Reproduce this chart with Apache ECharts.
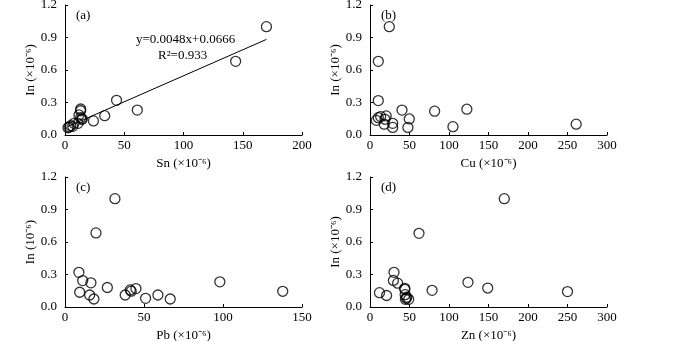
<!DOCTYPE html>
<html>
<head>
<meta charset="utf-8">
<script src="https://cdn.jsdelivr.net/npm/echarts@6/dist/echarts.min.js"></script>
<style>
  html, body { margin: 0; padding: 0; background: #fff; }
  #main { width: 700px; height: 341px; }
</style>
</head>
<body>
<div id="main"></div>
<script>
// In vs Sn
var snIn = [
  [170, 1.0], [144, 0.68], [61, 0.23], [43.5, 0.32], [33.5, 0.178], [24, 0.13],
  [13.2, 0.24], [13.2, 0.224], [11.8, 0.185], [13.2, 0.16], [14.6, 0.148], [14, 0.145],
  [11, 0.108], [7.6, 0.108], [6.5, 0.08], [4.8, 0.086], [2.5, 0.067], [3.5, 0.074]
];
// In vs Cu
var cuIn = [
  [24.4, 1.0], [10.5, 0.68], [10.5, 0.318], [8, 0.135], [10.5, 0.16], [13.5, 0.17],
  [20.5, 0.176], [19, 0.145], [18, 0.10], [28.7, 0.108], [28.7, 0.07], [40.5, 0.23],
  [49.7, 0.148], [48, 0.07], [81.8, 0.22], [105, 0.077], [122.6, 0.238], [261, 0.10]
];
// In vs Pb
var pbIn = [
  [31.6, 1.0], [19.6, 0.684], [8.8, 0.32], [11.2, 0.244], [9.3, 0.136], [16.4, 0.223],
  [15.6, 0.111], [18.3, 0.074], [26.8, 0.18], [38.1, 0.111], [41.3, 0.158], [41.9, 0.146],
  [44.9, 0.17], [51, 0.08], [58.8, 0.111], [66.6, 0.074], [98, 0.232], [137.8, 0.145]
];
// In vs Zn
var znIn = [
  [170, 1.0], [62, 0.68], [30.4, 0.32], [29.6, 0.245], [35, 0.22], [12, 0.132],
  [21, 0.106], [44, 0.172], [44, 0.163], [44.5, 0.114], [46.5, 0.09], [44.8, 0.071],
  [49, 0.071], [78.6, 0.154], [124, 0.228], [149, 0.175], [250, 0.142], [46, 0.08]
];

var xNames = ['Sn (×10⁻⁶)', 'Cu (×10⁻⁶)', 'Pb (×10⁻⁶)', 'Zn (×10⁻⁶)'];
var yNames = ['In (×10⁻⁶)', 'In (×10⁻⁶)', 'In (10⁻⁶)', 'In (×10⁻⁶)'];
var xMax = [200, 300, 150, 300];
var panelTags = ['(a)', '(b)', '(c)', '(d)'];
var fitCoef = [0.0048, 0.0666];   // slope, intercept
var fitR2 = 0.933;

var font = 'Liberation Serif, Times New Roman, serif';
var panels = [snIn, cuIn, pbIn, znIn];
var rects = [
  {left: 65, top: 5},
  {left: 370, top: 5},
  {left: 65, top: 177},
  {left: 370, top: 177}
];

var xs = snIn.map(function (d) { return d[0]; });
var fitLine = [Math.min.apply(null, xs), Math.max.apply(null, xs)].map(function (x) {
  return [x, fitCoef[0] * x + fitCoef[1]];
});

var mychart = echarts.init(document.getElementById('main'));

var grids = [], xAxes = [], yAxes = [], series = [], graphics = [];
panels.forEach(function (data, i) {
  grids.push({
    left: rects[i].left, top: rects[i].top, width: 237, height: 130,
    containLabel: false, outerBoundsMode: 'none'
  });
  xAxes.push({
    gridIndex: i, type: 'value', min: 0, max: xMax[i], interval: 50,
    name: xNames[i], nameLocation: 'middle', nameGap: 22,
    nameTextStyle: {fontFamily: font, fontSize: 13, color: '#000'},
    axisLine: {onZero: false, lineStyle: {color: '#000', width: 1}},
    axisTick: {inside: true, length: 3, lineStyle: {color: '#000'}},
    axisLabel: {fontFamily: font, fontSize: 13, color: '#000', margin: 4},
    splitLine: {show: false}
  });
  yAxes.push({
    gridIndex: i, type: 'value', min: 0, max: 1.2, interval: 0.3,
    name: yNames[i], nameLocation: 'middle', nameGap: 25,
    nameTextStyle: {fontFamily: font, fontSize: 13, color: '#000'},
    axisLine: {show: true, onZero: false, lineStyle: {color: '#000', width: 1}},
    axisTick: {show: true, inside: true, length: 3, lineStyle: {color: '#000'}},
    axisLabel: {
      fontFamily: font, fontSize: 13, color: '#000', margin: 8,
      formatter: function (v) { return v.toFixed(1); }
    },
    splitLine: {show: false}
  });
  series.push({
    type: 'scatter', xAxisIndex: i, yAxisIndex: i, data: data,
    symbol: 'circle', symbolSize: 10,
    itemStyle: {color: 'rgba(0,0,0,0)', borderColor: '#000', borderWidth: 1.3},
    animation: false
  });
  graphics.push({
    type: 'text', left: rects[i].left + 11, top: rects[i].top + 4,
    style: {text: panelTags[i], font: '13px ' + font, fill: '#000'}
  });
});

series.push({
  type: 'line', xAxisIndex: 0, yAxisIndex: 0, data: fitLine,
  symbol: 'none', lineStyle: {color: '#000', width: 1}, animation: false
});

graphics.push({
  type: 'text', left: 136, top: 33,
  style: {text: 'y=' + fitCoef[0] + 'x+' + fitCoef[1], font: '13px ' + font, fill: '#000'}
});
graphics.push({
  type: 'text', left: 158, top: 49,
  style: {text: 'R²=' + fitR2, font: '13px ' + font, fill: '#000'}
});

option = {
  backgroundColor: '#fff',
  animation: false,
  grid: grids,
  xAxis: xAxes,
  yAxis: yAxes,
  series: series,
  graphic: graphics
};
mychart.setOption(option);
</script>
</body>
</html>
